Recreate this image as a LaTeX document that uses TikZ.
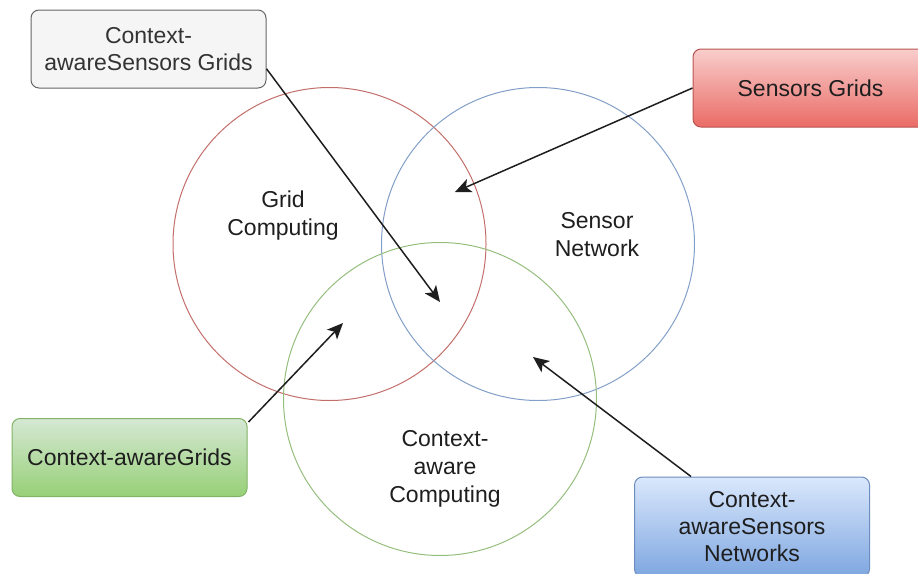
\documentclass[tikz,border=0pt]{standalone}
\usepackage{fontspec}
\setmainfont{Liberation Sans}
\usetikzlibrary{arrows.meta,calc}

\definecolor{grayfill}{HTML}{F5F5F5}
\definecolor{graydraw}{HTML}{666666}
\definecolor{graytext}{HTML}{333333}
\definecolor{redtop}{HTML}{F8CECC}
\definecolor{redbot}{HTML}{EA6B66}
\definecolor{reddraw}{HTML}{B85450}
\definecolor{greentop}{HTML}{D5E8D4}
\definecolor{greenbot}{HTML}{97D077}
\definecolor{greendraw}{HTML}{82B366}
\definecolor{bluetop}{HTML}{DAE8FC}
\definecolor{bluebot}{HTML}{7EA6E0}
\definecolor{bluedraw}{HTML}{6C8EBF}
\definecolor{ink}{HTML}{1E1E1E}

\tikzset{
  labelbox/.style={rectangle, rounded corners=8pt, minimum width=235pt,
    minimum height=78pt, inner sep=2pt, align=center, line width=1pt,
    font=\fontsize{23}{27}\selectfont, text=ink},
  setcircle/.style={circle, minimum size=313pt, inner sep=0pt, line width=1pt},
  setlabel/.style={align=center, font=\fontsize{23}{28}\selectfont, text=ink},
  pointer/.style={draw=ink, line width=1.5pt,
    -{Stealth[length=16pt, width=14pt, inset=4pt]}}
}

\begin{document}
\begin{tikzpicture}[x=1pt, y=-1pt]
\useasboundingbox (0,0) rectangle (918,573);

% the three overlapping sets
\node[setcircle, draw=reddraw!85]   (grid)   at (329.5,244) {};
\node[setcircle, draw=bluedraw!85]  (sensor) at (538,244)   {};
\node[setcircle, draw=greendraw!85] (ctx)    at (440,399)   {};

\node[setlabel] (gridlbl)   at (283,216) {Grid\\Computing};
\node[setlabel] (sensorlbl) at (597,235) {Sensor\\Network};
\node[setlabel] (ctxlbl)    at (445,469) {Context-\\aware\\Computing};

% the four intersection boxes
\node[labelbox, draw=graydraw, fill=grayfill, text=graytext] (csg) at (148.5,49)
  {Context-\\awareSensors Grids};
\node[labelbox, draw=reddraw, top color=redtop, bottom color=redbot] (sg) at (810.5,88)
  {Sensors Grids};
\node[labelbox, draw=greendraw, top color=greentop, bottom color=greenbot] (cg) at (129.5,457.5)
  {Context-awareGrids};
\node[labelbox, draw=bluedraw, top color=bluetop, bottom color=bluebot,
  minimum height=100pt] (csn) at (752,527)
  {Context-\\awareSensors\\Networks};

% arrow targets inside the overlaps
\coordinate (allthree) at (440,302);
\coordinate (gridsensor) at (455,192);
\coordinate (gridctx) at (343,323);
\coordinate (sensorctx) at (533,357);

% pointers
\draw[pointer] ($(csg.north east)!0.75!(csg.south east)$) -- (allthree);
\draw[pointer] (sg.west) -- (gridsensor);
\draw[pointer] ($(cg.north east)+(1,4)$) -- (gridctx);
\draw[pointer] ($(csn.north west)+(57,0)$) -- (sensorctx);
\end{tikzpicture}
\end{document}
